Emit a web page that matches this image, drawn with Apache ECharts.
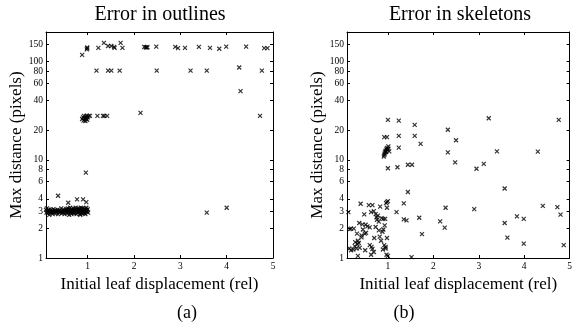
<!DOCTYPE html>
<html><head><meta charset="utf-8">
<script src="https://cdn.jsdelivr.net/npm/echarts@6/dist/echarts.min.js"></script>
<style>html,body{margin:0;padding:0;background:#fff}#c{width:575px;height:327px}</style>
</head><body><div id="c"></div>
<script>
const xTickValues = [1, 2, 3, 4, 5];
const yTickValues = [1, 2, 3, 4, 6, 8, 10, 20, 40, 60, 80, 100, 150];
const titles = ['Error in outlines', 'Error in skeletons'];
const panelLabels = ['(a)', '(b)'];
const xName = 'Initial leaf displacement (rel)';
const yName = 'Max distance (pixels)';

// (a) Error in outlines
const outlinesUpper = [[0.88,117],[0.98,133],[0.99,136],[0.99,139],[1.19,81],[1.23,138],[1.35,155],[1.44,81],[1.51,81],[1.44,144],[1.51,144],[1.58,138],[1.57,141],[1.69,81],[1.71,155],[1.75,138],[2.22,141],[2.25,140],[2.27,139],[2.29,140],[2.48,142],[2.49,81],[2.89,141],[2.95,137],[3.10,138],[3.22,81],[3.40,141],[3.57,81],[3.64,138],[3.84,135],[3.99,142],[4.27,87],[4.30,50],[4.42,142],[4.76,81],[4.81,137],[4.88,137]];
const outlinesMid = [[0.88,26],[0.90,27],[0.91,25],[0.92,28],[0.94,26.5],[0.95,24.8],[0.96,27.5],[0.97,26],[0.98,28.2],[0.99,25.5],[1.00,27],[1.02,28],[1.05,28],[1.21,28],[1.33,28],[1.36,28],[1.42,28],[2.14,30],[4.72,28]];
const outlinesLow = [[0.10,3.1],[0.11,2.9],[0.12,3.2],[0.13,3.0],[0.14,2.85],[0.15,3.05],[0.17,2.75],[0.18,3.0],[0.19,2.9],[0.21,3.1],[0.22,2.95],[0.24,2.8],[0.25,3.0],[0.26,3.15],[0.28,2.9],[0.29,3.05],[0.31,2.85],[0.32,3.0],[0.33,2.95],[0.35,3.1],[0.36,2.8],[0.37,3.0],[0.39,2.9],[0.40,3.05],[0.41,2.95],[0.43,3.2],[0.44,2.85],[0.45,3.0],[0.47,3.1],[0.48,2.9],[0.49,3.0],[0.50,2.8],[0.52,3.05],[0.53,2.95],[0.54,3.15],[0.55,2.85],[0.56,3.0],[0.57,3.2],[0.58,2.9],[0.59,3.1],[0.60,2.75],[0.61,3.0],[0.62,3.25],[0.63,2.9],[0.64,3.05],[0.65,2.8],[0.66,3.15],[0.67,3.0],[0.68,2.9],[0.69,3.2],[0.70,3.05],[0.71,2.85],[0.72,3.1],[0.73,2.95],[0.74,3.25],[0.75,3.0],[0.76,2.8],[0.77,3.15],[0.78,2.9],[0.79,3.05],[0.80,3.2],[0.81,2.95],[0.82,3.1],[0.83,2.8],[0.84,3.0],[0.85,3.25],[0.86,2.9],[0.87,3.1],[0.88,3.0],[0.89,2.85],[0.90,3.2],[0.91,3.05],[0.92,2.9],[0.93,3.15],[0.94,3.0],[0.95,2.8],[0.96,3.1],[0.97,3.25],[0.98,2.95],[0.99,3.05],[1.00,3.15],[1.01,2.9],[0.97,3.0],[0.93,2.85],[0.88,3.2],[0.84,2.75],[0.76,3.05],[0.70,2.9],[0.66,2.95],[0.62,3.0],[0.55,3.1],[0.46,2.95],[0.38,3.0],[0.30,3.05],[0.23,2.9],[0.16,3.1]];
const outlinesOther = [[0.36,4.3],[0.58,3.65],[0.77,3.95],[0.90,3.95],[0.97,3.7],[0.96,7.4],[3.57,2.9],[4.00,3.25]];

// (b) Error in skeletons
const skeletonsUpper = [[1.00,25.5],[1.24,25],[1.59,22.7],[2.32,20.2],[3.22,26.5],[4.76,25.5],[0.92,17],[0.98,17],[1.24,17.5],[1.59,17.5],[1.72,14.5],[2.50,15.8],[1.01,13.7],[1.24,13.3],[2.32,11.9],[3.40,12.2],[4.30,12.1],[0.91,10.8],[0.92,11.2],[0.93,11.6],[0.94,12.0],[0.95,12.4],[0.96,12.0],[0.97,12.8],[0.98,13.2],[0.99,12.6],[1.01,13.0],[1.03,12.2],[2.48,9.4],[3.11,9.1],[2.95,8.1],[1.00,8.2],[1.21,8.4],[1.44,8.9],[1.53,8.9]];
const skeletonsMidRight = [[3.57,5.1],[1.44,4.7],[1.35,3.6],[1.19,2.93],[1.35,2.47],[1.41,2.42],[1.69,2.57],[1.75,1.75],[1.52,1.02],[2.27,3.25],[2.90,3.15],[4.41,3.4],[4.73,3.3],[4.80,2.76],[3.84,2.65],[3.99,2.5],[3.57,2.27],[2.15,2.36],[2.25,2.04],[3.63,1.61],[3.99,1.40],[4.87,1.35]];
const skeletonsLow = [[1.00,3.8],[0.98,3.7],[0.98,3.25],[0.13,2.93],[0.40,3.57],[0.58,3.46],[0.66,3.46],[0.83,3.33],[0.96,3.62],[0.48,2.78],[0.63,2.93],[0.69,3.0],[0.73,2.8],[0.75,2.6],[0.78,2.7],[0.76,2.45],[0.80,2.35],[0.86,2.55],[0.90,2.5],[0.94,2.5],[0.16,1.97],[0.19,1.99],[0.25,1.99],[0.37,2.27],[0.44,2.2],[0.51,2.18],[0.45,1.95],[0.55,2.1],[0.60,2.05],[0.32,1.77],[0.49,1.77],[0.52,1.8],[0.73,2.07],[0.80,1.91],[0.93,2.15],[0.90,1.95],[0.88,1.85],[0.34,1.5],[0.36,1.42],[0.33,1.38],[0.38,1.27],[0.31,1.25],[0.19,1.2],[0.24,1.22],[0.50,1.2],[0.66,1.24],[0.69,1.15],[0.89,1.22],[0.92,1.35],[0.95,1.3],[0.63,1.08],[0.34,1.05],[0.97,1.08],[1.00,1.05],[0.60,1.35],[0.64,1.3],[0.85,1.5],[0.98,1.6],[0.70,1.6],[0.82,1.65],[0.15,1.25],[0.28,1.45],[0.42,1.62],[0.42,1.7],[0.27,1.32],[0.95,1.25]];

const FONT = 'Liberation Serif';
const chart = echarts.init(document.getElementById('c'), null, {renderer: 'canvas'});
const grids = [
  {left: 46, top: 32, width: 227, height: 226},
  {left: 347, top: 32, width: 227, height: 226}
];
const xAxes = [], yAxes = [];
grids.forEach((g, i) => {
  xAxes.push({
    type: 'value', gridIndex: i, position: 'bottom', min: 0.1, max: 5,
    name: xName, nameLocation: 'middle', nameGap: 14,
    nameTextStyle: {fontFamily: FONT, fontSize: 17, color: '#000'},
    axisLine: {show: true, onZero: false, lineStyle: {color: '#000', width: 1}},
    axisTick: {show: true, inside: true, length: 3, customValues: xTickValues, lineStyle: {color: '#000'}},
    axisLabel: {show: true, customValues: xTickValues, fontFamily: FONT, fontSize: 9.5, color: '#000', margin: 3},
    splitLine: {show: false}
  });
  xAxes.push({
    type: 'value', gridIndex: i, position: 'top', min: 0.1, max: 5,
    axisLine: {show: true, onZero: false, lineStyle: {color: '#000', width: 1}},
    axisTick: {show: true, inside: true, length: 3, customValues: xTickValues, lineStyle: {color: '#000'}},
    axisLabel: {show: false}, splitLine: {show: false}
  });
  yAxes.push({
    type: 'log', logBase: 10, gridIndex: i, position: 'left', min: 1, max: 200,
    name: yName, nameLocation: 'middle', nameGap: 15,
    nameTextStyle: {fontFamily: FONT, fontSize: 17, color: '#000'},
    axisLine: {show: true, onZero: false, lineStyle: {color: '#000', width: 1}},
    axisTick: {show: true, inside: true, length: 3, customValues: yTickValues, lineStyle: {color: '#000'}},
    axisLabel: {show: true, customValues: yTickValues, fontFamily: FONT, fontSize: 9.5, color: '#000', margin: 3},
    minorTick: {show: false}, splitLine: {show: false}
  });
  yAxes.push({
    type: 'log', logBase: 10, gridIndex: i, position: 'right', min: 1, max: 200,
    axisLine: {show: true, onZero: false, lineStyle: {color: '#000', width: 1}},
    axisTick: {show: true, inside: true, length: 3, customValues: yTickValues, lineStyle: {color: '#000'}},
    axisLabel: {show: false}, splitLine: {show: false}
  });
});
const xSym = 'path://M0,0L10,10M0,10L10,0';
function sc(data, gi) {
  return {
    type: 'scatter', xAxisIndex: gi * 2, yAxisIndex: gi * 2, data: data,
    symbol: xSym, symbolSize: 4,
    itemStyle: {color: 'rgba(0,0,0,0)', borderColor: '#000', borderWidth: 1.2},
    emphasis: {disabled: true}, silent: true, animation: false
  };
}
const series = [
  sc(outlinesUpper, 0), sc(outlinesMid, 0), sc(outlinesLow, 0), sc(outlinesOther, 0),
  sc(skeletonsUpper, 1), sc(skeletonsMidRight, 1), sc(skeletonsLow, 1)
];
const graphic = [
  {type: 'text', x: 160, y: 15, style: {text: titles[0], font: '20px "' + FONT + '"', fill: '#000', align: 'center', verticalAlign: 'middle'}},
  {type: 'text', x: 460, y: 15, style: {text: titles[1], font: '20px "' + FONT + '"', fill: '#000', align: 'center', verticalAlign: 'middle'}},
  {type: 'text', x: 187, y: 313, style: {text: panelLabels[0], font: '18px "' + FONT + '"', fill: '#000', align: 'center', verticalAlign: 'middle'}},
  {type: 'text', x: 404, y: 313, style: {text: panelLabels[1], font: '18px "' + FONT + '"', fill: '#000', align: 'center', verticalAlign: 'middle'}}
];
chart.setOption({
  animation: false,
  backgroundColor: '#fff',
  grid: grids.map(g => Object.assign({containLabel: false}, g)),
  xAxis: xAxes, yAxis: yAxes, series: series, graphic: graphic
});
</script></body></html>
